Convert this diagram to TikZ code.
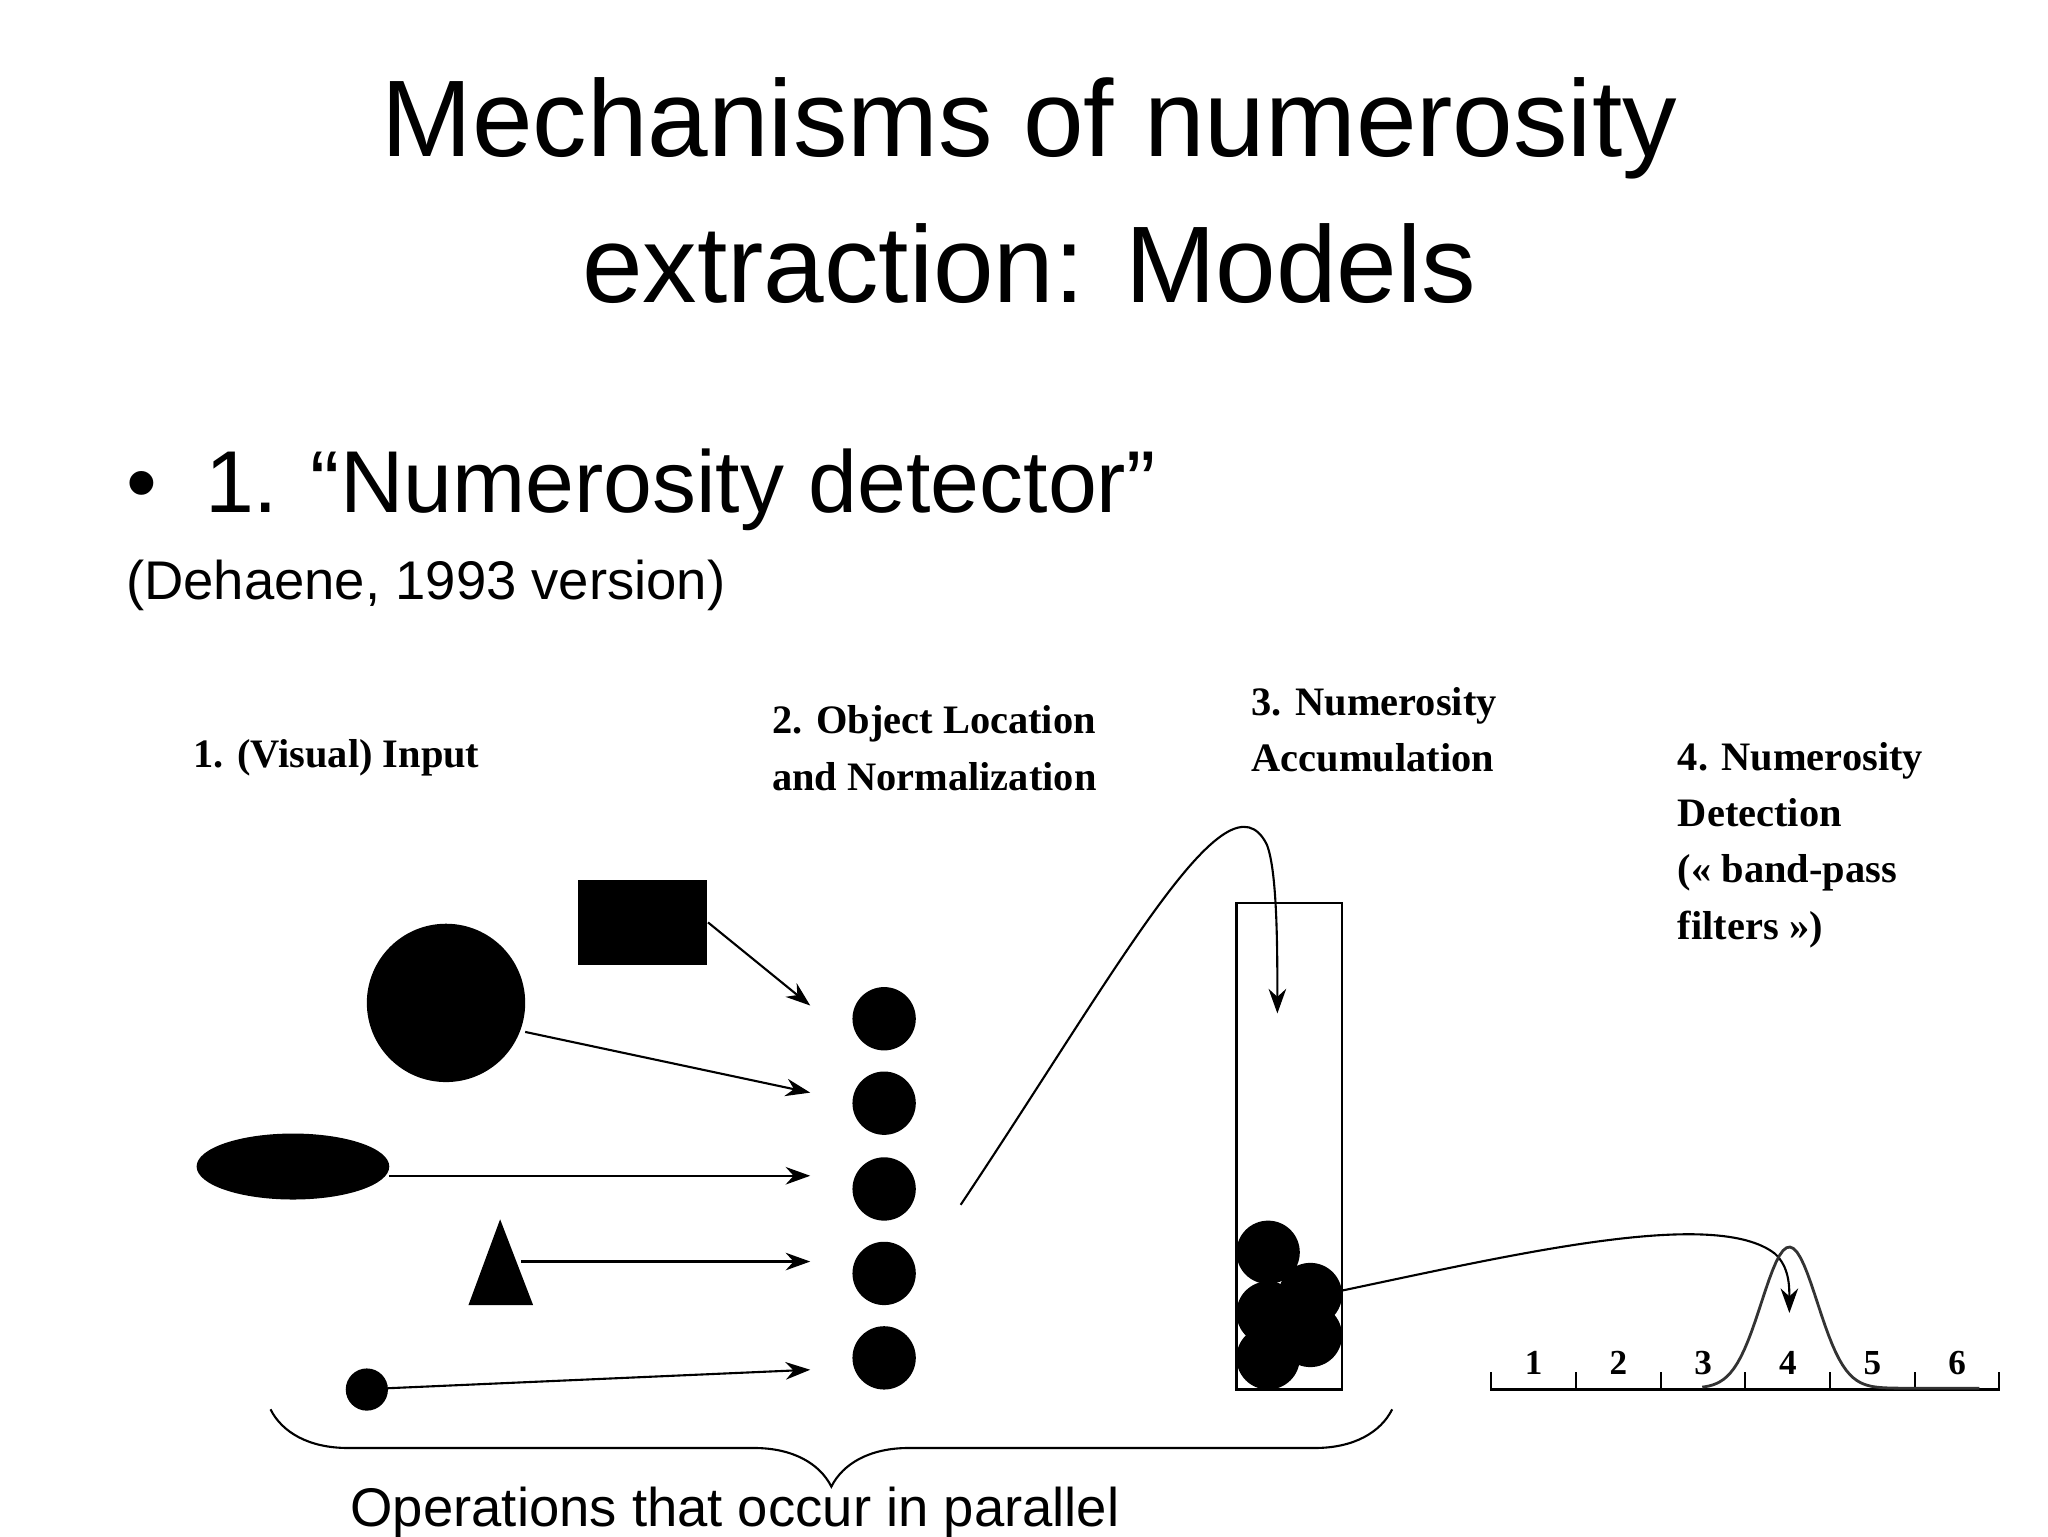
\documentclass[tikz,border=0pt]{standalone}
\usepackage{fontspec}
\setmainfont{Liberation Sans}
\newfontfamily\tms{Liberation Serif}
\usetikzlibrary{decorations.pathreplacing,arrows.meta}
\begin{document}
\begin{tikzpicture}[x=0.013196cm,y=-0.013196cm,
  lbl/.style={font=\tms\fontsize{11.5}{16}\selectfont\bfseries,align=left,inner sep=0},
  arr/.style={-{Stealth[length=7pt,width=5pt]},line width=0.6pt},
  dot/.style={circle,fill=black,inner sep=0}]
\useasboundingbox (0,0) rectangle (1552,1164);
\node[font=\fontsize{31}{38}\selectfont,inner sep=0] (title1) at (780,97) {Mechanisms of numerosity};
\node[font=\fontsize{31}{38}\selectfont,inner sep=0] (title2) at (780,200) {extraction: Models};
\node[font=\fontsize{25}{30}\selectfont,anchor=base west,inner sep=0] (b) at (95,388) {•\hspace{0.55em}1. “Numerosity detector”};
\node[font=\fontsize{15.5}{19}\selectfont,anchor=base west,inner sep=0] (deh) at (95,454) {(Dehaene, 1993 version)};
\node[lbl] (l1) at (255,574) {1. (Visual) Input};
\node[lbl,align=center] (l2) at (708,567) {2. Object Location\\and Normalization};
\node[lbl,anchor=west] (l3) at (948,553) {3. Numerosity\\Accumulation};
\node[lbl,anchor=north west] (l4) at (1271,562) {4. Numerosity\\Detection\\(« band-pass\\filters »)};
% input shapes
\node[fill=black,minimum width=98*0.013196cm,minimum height=64*0.013196cm,inner sep=0] (rect) at (487,699) {};
\node[dot,minimum size=120*0.013196cm] (big) at (338,760) {};
\fill (222,884) ellipse [x radius=73, y radius=25];
\coordinate (ell) at (295,891);
\fill (379,924) -- (404,989) -- (355,989) -- cycle;
\coordinate (tri) at (395,956);
\node[dot,minimum size=32*0.013196cm] (small) at (278,1053) {};
% column
\foreach \i/\y in {1/772,2/836,3/901,4/965,5/1029}{
  \node[dot,minimum size=48*0.013196cm] (c\i) at (670,\y) {};
}
\draw[arr] (rect.east) -- (614,762);
\draw[arr] (398,782) -- (614,828);
\draw[arr] (ell) -- (614,891);
\draw[arr] (tri) -- (614,956);
\draw[arr] (294,1052) -- (614,1038);
% tube
\draw[line width=0.6pt] (937,684) rectangle (1017,1053);
\foreach \x/\y in {961/949,993/981,961/995,993/1012,961/1029}
  \fill (\x,\y) circle (24);
\coordinate (s1) at (728,913);
\draw[arr] (s1) .. controls (850,730) and (930,580) .. (960,640) .. controls (968,660) and (968,720) .. (968,768);
\draw[arr] (1017,978) .. controls (1150,950) and (1300,915) .. (1345,950) .. controls (1356,960) and (1356,975) .. (1356,995);
% axis
\draw[line width=0.6pt] (1130,1040) -- (1130,1053) -- (1515,1053) -- (1515,1040);
\foreach \i in {1,...,5} \draw[line width=0.6pt] (1130+\i*64.2,1040) -- (1130+\i*64.2,1053);
\foreach \i in {1,...,6} \node[font=\tms\bfseries\fontsize{10}{12}\selectfont,inner sep=0] (n\i) at (1130+\i*64.2-32,1033) {\i};
\draw[line width=0.8pt,black!80,domain=1290:1500,samples=80] plot (\x,{1052-107*exp(-((\x-1356)/30)^2)});
% brace
\draw[decorate,decoration={brace,mirror,amplitude=22pt},line width=0.6pt] (205,1068) -- (1055,1068);
\node[font=\fontsize{15.5}{19}\selectfont,inner sep=0] (ops) at (557,1146) {Operations that occur in parallel};
\end{tikzpicture}
\end{document}
